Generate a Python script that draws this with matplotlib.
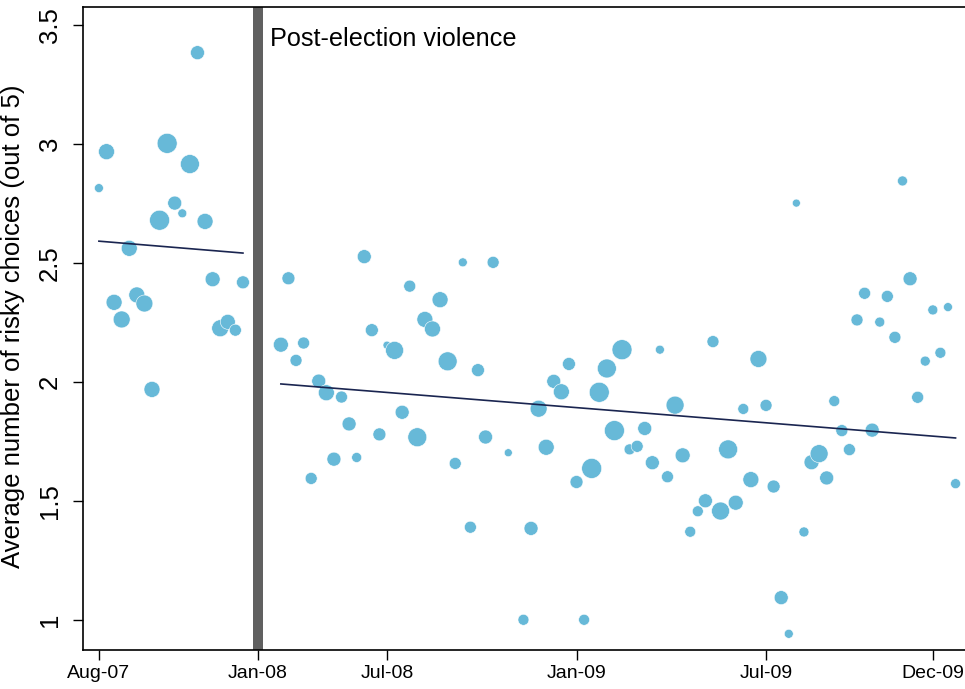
import matplotlib
matplotlib.use("Agg")
import matplotlib.pyplot as plt

plt.rcParams['font.family'] = ['Liberation Sans', 'DejaVu Sans']

# ---- data (week index since Aug-07, avg risky choices, marker weight) ----
pre_week = list(range(0, 20))
pre_value = [2.815, 2.968, 2.335, 2.263, 2.562, 2.366, 2.330, 1.969, 2.680, 3.003,
             2.752, 2.709, 2.916, 3.384, 2.675, 2.432, 2.226, 2.253, 2.218, 2.419]
pre_weight = [20, 64, 64, 72, 64, 64, 72, 64, 100, 100,
              49, 20, 90, 49, 64, 56, 72, 56, 36, 42]

post_week = [24, 25, 26, 27, 28, 29, 30, 31, 32, 33, 34, 35, 36, 37, 38, 39, 40, 41, 42, 43,
             44, 45, 46, 47, 48, 49, 50, 51, 52, 54, 56, 57, 58, 59, 60, 61, 62, 63, 64, 65,
             66, 67, 68, 69, 70, 71, 72, 73, 74, 75, 76, 77, 78, 79, 80, 81, 82, 83, 84, 85,
             86, 87, 88, 89, 90, 91, 92, 93, 94, 95, 96, 97, 98, 99, 100, 101, 102, 103, 104, 105,
             106, 107, 108, 109, 110, 111, 112, 113]
post_value = [2.157, 2.436, 2.091, 2.164, 1.595, 2.004, 1.955, 1.676, 1.937, 1.824,
              1.683, 2.527, 2.218, 1.780, 2.155, 2.133, 1.873, 2.403, 1.768, 2.263,
              2.223, 2.346, 2.087, 1.658, 2.503, 1.390, 2.050, 1.769, 2.503, 1.703,
              1.001, 1.385, 1.888, 1.726, 2.003, 1.959, 2.076, 1.580, 1.001, 1.637,
              1.957, 2.057, 1.796, 2.136, 1.717, 1.730, 1.805, 1.661, 2.136, 1.602,
              1.903, 1.692, 1.371, 1.457, 1.501, 2.170, 1.458, 1.717, 1.493, 1.887,
              1.590, 2.097, 1.902, 1.561, 1.094, 0.942, 2.752, 1.370, 1.663, 1.699,
              1.597, 1.920, 1.796, 1.716, 2.261, 2.373, 1.798, 2.252, 2.360, 2.188,
              2.845, 2.434, 1.936, 2.088, 2.303, 2.123, 2.315, 1.573]
post_weight = [56, 42, 36, 36, 36, 49, 64, 49, 36, 49,
               25, 49, 42, 42, 16, 81, 49, 36, 90, 64,
               64, 64, 90, 36, 20, 36, 42, 49, 36, 16,
               30, 49, 72, 64, 49, 64, 42, 42, 30, 100,
               100, 90, 100, 100, 30, 36, 49, 49, 20, 36,
               81, 56, 30, 30, 49, 36, 81, 90, 56, 30,
               64, 72, 36, 42, 49, 20, 16, 25, 56, 81,
               49, 30, 36, 36, 36, 36, 49, 25, 36, 36,
               25, 49, 36, 25, 25, 30, 20, 25]

# fitted trend lines (endpoints)
pre_fit_week = [0, 19]
pre_fit_value = [2.592, 2.542]
post_fit_week = [24, 113]
post_fit_value = [1.992, 1.765]

violence_start, violence_end = 20.35, 21.63
violence_label = "Post-election violence"

tick_weeks = [0, 21, 38, 63, 88, 110]
tick_labels = ["Aug-07", "Jan-08", "Jul-08", "Jan-09", "Jul-09", "Dec-09"]
y_ticks = [1, 1.5, 2, 2.5, 3, 3.5]
y_ticklabels = ["1", "1.5", "2", "2.5", "3", "3.5"]
y_label = "Average number of risky choices (out of 5)"

# ---- plot ----
fig = plt.figure(figsize=(9.65, 6.89), dpi=100)
ax = fig.add_axes([83 / 965, 39 / 689, 1 - 83 / 965 + 0.002, (650 - 7) / 689])

dot_color = "#67B9D8"
scale = 2.07
ax.scatter(pre_week, pre_value, s=[w * scale for w in pre_weight], color=dot_color,
           edgecolors="white", linewidths=0.4, zorder=3)
ax.scatter(post_week, post_value, s=[w * scale for w in post_weight], color=dot_color,
           edgecolors="white", linewidths=0.4, zorder=3)

ax.plot(pre_fit_week, pre_fit_value, color="#1a2550", lw=1.2, zorder=4)
ax.plot(post_fit_week, post_fit_value, color="#1a2550", lw=1.2, zorder=4)

ax.axvspan(violence_start, violence_end, color="#606060", lw=0, zorder=2)
ax.text(violence_end + 1.0, 3.412, violence_label, fontsize=18.2, ha="left", va="baseline")

ax.set_xlim(-2.1, 114.5)
ax.set_ylim(0.874, 3.576)

ax.set_xticks(tick_weeks)
ax.set_xticklabels(tick_labels, fontsize=14)
ax.set_yticks(y_ticks)
ax.set_yticklabels(y_ticklabels, fontsize=18.5, rotation=90, va="center")
ax.tick_params(axis="x", length=7, width=1, pad=4)
ax.tick_params(axis="y", length=7, width=1, pad=8)
ax.set_ylabel(y_label, fontsize=18.5)
ax.yaxis.set_label_coords(-0.0656, 0.503)

for side in ["left", "bottom", "top"]:
    ax.spines[side].set_linewidth(1.2)
ax.spines["right"].set_visible(False)

fig.savefig("out.png", dpi=100)
